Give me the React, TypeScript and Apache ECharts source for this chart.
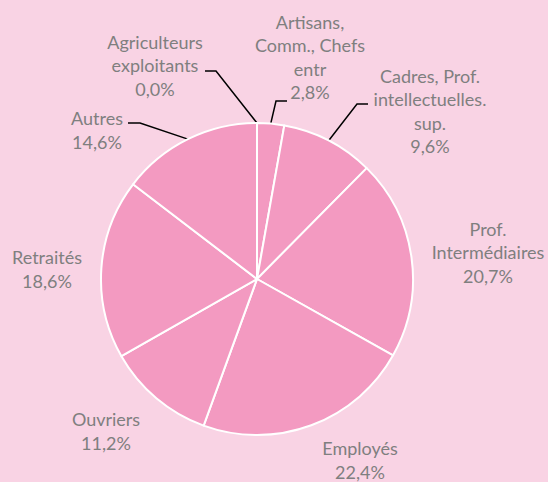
import React, { useEffect, useRef } from 'react';
import * as echarts from 'echarts';

const categories = [
  'Agriculteurs\nexploitants',
  'Artisans,\nComm., Chefs\nentr',
  'Cadres, Prof.\nintellectuelles.\nsup.',
  'Prof.\nIntermédiaires',
  'Employés',
  'Ouvriers',
  'Retraités',
  'Autres',
];
const values = [0.0, 2.8, 9.6, 20.7, 22.4, 11.2, 18.6, 14.6];

// label block centres (px)
const LABEL_POS: number[][] = [
  [155, 65],
  [310, 57],
  [430, 111],
  [488, 252],
  [360, 460],
  [106, 431],
  [47, 269],
  [97, 130],
];
// leader elbows and ends (px), null = no leader
const LEADERS: (number[][] | null)[] = [
  [[216, 71], [205, 71]],
  [[276, 101], [287, 101]],
  [[357, 104], [368, 104]],
  null,
  null,
  null,
  null,
  [[140, 123], [128, 123]],
];

const BG = '#F9D3E4';
const SLICE = '#F39AC1';
const TEXT = '#7F7F7F';

export default function App() {
  const ref = useRef<HTMLDivElement>(null);
  useEffect(() => {
    document.body.style.margin = '0';
    const chart = echarts.init(ref.current!, undefined, { renderer: 'svg' });
    chart.setOption({
      animation: false,
      backgroundColor: BG,
      series: [
        {
          type: 'pie',
          center: [257, 279],
          radius: 156,
          startAngle: 90,
          clockwise: true,
          avoidLabelOverlap: false,
          minShowLabelAngle: 0,
          itemStyle: { color: SLICE, borderColor: '#FFFFFF', borderWidth: 2 },
          label: {
            show: true,
            position: 'outside',
            color: TEXT,
            fontFamily: 'Lato',
            fontSize: 18,
            lineHeight: 23.5,
            align: 'center',
            formatter: (p: any) => `${p.name}\n${Number(p.value).toFixed(1).replace('.', ',')}%`,
          },
          labelLine: { show: true, lineStyle: { color: '#000000', width: 1.5 } },
          labelLayout: (p: any) => {
            const i = p.dataIndex;
            const res: any = {
              x: LABEL_POS[i][0],
              y: LABEL_POS[i][1],
              align: 'center',
              verticalAlign: 'middle',
            };
            const lead = LEADERS[i];
            if (lead && p.labelLinePoints) {
              res.labelLinePoints = [p.labelLinePoints[0], lead[0], lead[1]];
            }
            return res;
          },
          data: categories.map((name, i) => ({
            name,
            value: values[i],
            labelLine: { show: LEADERS[i] != null },
          })),
        },
      ],
    });
    return () => chart.dispose();
  }, []);
  return <div ref={ref} style={{ width: 548, height: 482 }} />;
}
